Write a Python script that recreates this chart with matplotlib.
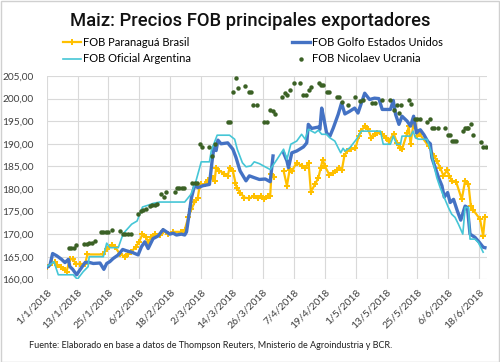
import numpy as np
import matplotlib
matplotlib.use('Agg')
import matplotlib.pyplot as plt
from matplotlib.patches import Rectangle

# ---- data (x = days since 1/1/2018) ----
brasil_day = [0, 1.9, 3.2, 4.1, 5.4, 7.1, 7.7, 9, 10.3, 11.4, 12.9, 14.9, 15.8, 22, 23.3, 25.2, 26.5,
              28.4, 30.4, 31.6, 32.9, 34.6, 35.9, 37.2, 38.5, 39.4, 40.7, 42, 43.9, 45.2, 47.1, 49.1,
              52.3, 53.6, 55, 56.2, 57.4, 58.7, 59.4, 60, 61.3, 62.6, 64.5, 65.2, 65.8, 67.1, 69, 70.3,
              71, 72.3, 73.3, 73.8, 75.1, 76.8, 78.7, 80.6, 81.9, 83.2, 84.5, 85.8, 86.8, 87.3, 88.1,
              90, 92, 93.3, 94.3, 95.2, 97.1, 99, 100.3, 101.7, 102.6, 104.2, 105.5, 106.4, 107.2, 108,
              109.8, 111.1, 112.8, 113.7, 114.6, 115.6, 116.6, 118, 119.9, 121.2, 122.2, 123.5, 124.8,
              126.1, 127.4, 128.4, 130.3, 131.6, 132.9, 134.8, 136.1, 137.1, 138, 140, 140.6, 141.3,
              142.3, 143.2, 143.8, 144.9, 148.3, 150.5, 151.5, 152.8, 154.1, 155.4, 156.4, 157.3, 159,
              161.2, 162.5, 163.8, 164.7, 165.7, 168.3, 169.5, 170.2]
brasil_val = [162.8, 163.5, 163.9, 163.2, 162.8, 162.0, 161.7, 164.4, 164.4, 163.4, 163.4, 163.4, 165.5,
              165.5, 166.8, 167.6, 167.2, 165.6, 165.0, 165.7, 166.1, 167.2, 168.3, 170.0, 169.4, 168.3,
              169.3, 170.0, 169.8, 170.7, 170.1, 170.5, 170.5, 170.9, 173.8, 175.5, 177.0, 178.1, 180.7,
              181.0, 181.0, 181.9, 182.5, 181.8, 184.7, 184.0, 183.4, 182.9, 184.6, 184.0, 181.4, 180.3,
              179.2, 178.1, 177.9, 178.5, 177.9, 178.5, 177.7, 178.5, 178.5, 183.4, 182.6, np.nan,
              184.0, 180.7, 184.1, 184.0, 185.8, 185.1, 184.6, 185.8, 179.4, 181.0, 182.5, 184.6, 186.5,
              185.1, 183.1, 183.6, 184.1, 184.7, 184.1, 187.3, 188.4, 188.8, 189.0, 191.7, 192.9, 193.9,
              193.2, 191.3, 192.1, 192.4, 192.2, 191.3, 190.7, 192.2, 190.2, 189.0, 188.8, 192.4, 193.9,
              190.0, 193.9, 195.0, 191.7, 192.1, 189.5, 187.3, 186.2, 184.7, 182.9, 184.1, 182.9, 181.8,
              181.6, 177.7, 181.8, 181.0, 176.3, 175.3, 173.3, 169.6, 173.8]

golfo_day = [0, 1.3, 2.3, 3.9, 5.8, 7.1, 8.4, 9.0, 10.1, 11.6, 14.9, 16.1, 18.1, 20.7, 22.2, 23.3, 24.5,
             25.8, 27.8, 29.5, 31, 33, 35.5, 36.8, 38.1, 39.4, 41.3, 43.3, 45.2, 46.5, 47.8, 49.1, 50.4,
             52.3, 53.6, 54.3, 55.2, 56.2, 57.4, 58.7, 60.6, 63.2, 64.2, 65, 65.8, 66.5, 67.7, 70.3, 72.3,
             73.5, 75.1, 77.4, 78.7, 80.6, 82.6, 84.9, 86.8, 87.9, 90, 92, 93.3, 93.9, 95.2, 97.1, 99.7,
             101, 101.6, 102.9, 105.5, 106.1, 106.8, 107.7, 108.7, 110, 111.3, 113.2, 114.5, 115.8, 117.7,
             119.6, 120.9, 122.2, 123.5, 125.4, 127.3, 129, 130.3, 133.5, 134.6, 135.5, 136.8, 138, 140,
             141.3, 142.5, 143.6, 144.5, 145.1, 146.5, 148, 149, 149.6, 150.9, 152.2, 153.5, 154.4, 155.7,
             156.7, 158, 159.5, 160.8, 162.5, 163.4, 164.4, 166.3, 168, 169.5, 170.2]
golfo_val = [162.6, 163.2, 165.7, 165.2, 164.4, 163.7, 164.4, 162.8, 162.2, 161.0, 163.7, 163.8, 163.5,
             163.6, 162.2, 163.5, 163.9, 164.6, 165.4, 166.6, 166.3, 166.0, 165.4, 167.2, 168.3, 166.8,
             169.0, 169.6, 171.0, 170.5, 170.0, 170.2, 169.8, 170.0, 169.8, 170.5, 174.0, 178.0, 180.7,
             180.3, 180.7, 181.0, 186.0, 189.5, 188.5, 190.8, 190.0, 190.2, 188.8, 187.0, 184.0, 181.8,
             182.9, 182.5, 182.1, 182.2, 181.6, 187.3, np.nan, 188.0, 186.2, 184.7, 188.0, 188.4, 189.3,
             190.2, 194.3, 193.4, 193.7, 193.2, 197.9, 195.4, 192.4, 191.7, 193.5, 196.5, 199.0, 196.6,
             197.2, 197.9, 196.8, 199.0, 201.2, 199.8, 200.1, 200.0, 197.6, 197.6, 199.6, 196.5, 194.3,
             196.1, 195.0, 193.9, 196.1, 192.4, 192.9, 193.1, 192.0, 190.5, 190.0, 186.9, 184.7, 182.5,
             180.7, 178.2, 179.2, 177.0, 177.7, 175.1, 173.1, 176.2, 175.9, 170.0, 169.3, 168.2, 167.1,
             167.0]

argentina_day = [0, 1.9, 2.8, 4.5, 10.3, 11.9, 14.2, 16.1, 16.5, 22, 23.3, 24.5, 27.8, 29.7, 33, 35.1,
                 37.2, 39.4, 41.3, 43.9, 53.6, 56, 57.8, 59.4, 60, 63.2, 63.9, 66.2, 71, 73, 74, 76, 77.4,
                 79.3, 80.6, 82.6, 84.5, 86.8, 89.4, 92, 93.3, 94.8, 97.1, 99, 100.4, 101.6, 104.2, 105.5,
                 106.8, 108.7, 110, 111.9, 113.2, 114.2, 115.1, 115.8, 117.7, 120.3, 122.2, 125.8, 129.6,
                 130.7, 133.5, 134.6, 135.9, 137.4, 138, 141.3, 142.3, 143.2, 144.5, 147.7, 149, 150.3,
                 151.5, 152.8, 154.1, 156, 157.3, 158.6, 159.9, 161.6, 162.5, 163.8, 164.4, 166.3, 167.6,
                 169.5]
argentina_val = [162.8, 163.5, 163.9, 161.0, 161.0, 160.0, 161.7, 162.8, 165.0, 165.0, 168.0, 167.0, 167.0,
                 170.1, 172.2, 172.9, 176.0, 176.4, 176.8, 177.1, 177.1, 178.8, 181.4, 184.7, 186.0, 186.0,
                 188.4, 191.9, 191.9, 191.0, 188.8, 185.8, 184.9, 185.1, 186.0, 185.6, 185.0, 184.3, 186.5,
                 188.8, 186.5, 189.9, 190.6, 192.1, 191.0, 193.2, 192.4, 193.0, 192.1, 192.1, 191.3, 190.6,
                 189.1, 188.0, 189.0, 188.4, 189.1, 191.0, 192.8, 192.8, 192.8, 189.9, 189.9, 191.7, 189.9,
                 189.9, 191.7, 191.7, 192.8, 191.3, 191.0, 191.0, 188.8, 185.4, 182.5, 180.3, 178.5, 175.9,
                 174.4, 173.7, 172.2, 170.0, 175.9, 175.9, 168.9, 168.9, 168.2, 166.0]

ucrania_day = [8.5, 9.5, 10.5, 11.5, 14.5, 15.5, 16.5, 17.5, 18.7, 21, 22, 23, 24, 25.5, 28.5, 29.5, 30.5,
               31.5, 32.7, 35.5, 36.5, 37.5, 38.5, 40, 41, 42, 43, 44.5, 45.4, 46.5, 49.7, 50.5, 51.5, 52.5,
               53.5, 56.5, 57.5, 58.5, 59.4, 60.4, 63.2, 64.3, 65.4, 70.3, 71.2, 72.3, 73.5, 74.2, 77.2,
               78.5, 79.4, 80.3, 81.5, 84.5, 85.5, 86.8, 87.9, 88.8, 91.4, 92.7, 93.3, 94.6, 95.9, 98.5,
               99.7, 100.7, 101.7, 102.6, 105.6, 106.5, 107.4, 108.8, 109.8, 112.6, 113.5, 114.7, 116.9,
               119.8, 121.8, 123, 126.5, 127.5, 130.3, 133.5, 134.8, 135.9, 136.8, 137.7, 140.6, 141.5,
               143.2, 144, 144.9, 147.7, 148.7, 149.6, 150.6, 151.8, 154.8, 155.7, 156.7, 157.3, 158.2,
               159, 161.6, 162.5, 163.2, 163.8, 164.7, 165.7, 168.6, 169.5, 170.5]
ucrania_val = [166.9, 166.9, 167.0, 167.5, 167.9, 167.9, 168.0, 168.0, 168.5, 170.4, 170.4, 170.5, 170.5,
               171.0, 170.6, 170.1, 170.0, 170.0, 170.0, 174.5, 175.2, 175.4, 175.5, 176.3, 176.4, 176.5,
               176.6, 178.8, 178.2, 179.4, 179.4, 180.3, 180.3, 180.3, 180.3, 181.3, 181.3, 181.3, 189.9,
               189.3, 189.3, 187.3, 189.9, 194.9, 194.9, 201.5, 204.6, 202.4, 202.9, 201.4, 201.4, 198.5,
               198.5, 194.9, 194.9, 197.4, 197.2, 196.6, 200.3, 201.3, 200.7, 202.0, 203.5, 203.5, 200.7,
               200.7, 202.0, 202.5, 203.5, 203.0, 203.0, 201.5, 201.5, 200.3, 200.3, 199.3, 198.5, 200.3,
               199.4, 199.7, 199.0, 199.0, 199.8, 199.8, 197.4, 198.5, 196.8, 198.5, 199.8, 198.8, 195.4,
               195.4, 195.4, 194.9, 195.4, 193.4, 193.4, 193.4, 193.4, 191.9, 191.9, 190.7, 190.7, 190.7,
               192.8, 193.4, 193.4, 193.4, 194.4, 191.9, 190.4, 189.3, 189.3]

tick_days = [0, 12, 24, 36, 48, 60, 72, 84, 96, 108, 120, 132, 144, 156, 168]
tick_labels = ['1/1/2018', '13/1/2018', '25/1/2018', '6/2/2018', '18/2/2018', '2/3/2018', '14/3/2018',
               '26/3/2018', '7/4/2018', '19/4/2018', '1/5/2018', '13/5/2018', '25/5/2018', '6/6/2018',
               '18/6/2018']
y_ticks = [160, 165, 170, 175, 180, 185, 190, 195, 200, 205]

names = ['FOB Paranaguá Brasil', 'FOB Golfo Estados Unidos', 'FOB Oficial Argentina', 'FOB Nicolaev Ucrania']

# ---- style ----
C_YEL = '#FFC000'
C_BLU = '#4472C4'
C_CYA = '#45C6D6'
C_GRN = '#3B6125'
FONT = ['Lato', 'DejaVu Sans']
plt.rcParams['font.family'] = FONT

fig = plt.figure(figsize=(5, 3.62), dpi=100)
fig.patches.append(Rectangle((0.001, 0.001), 0.997, 0.996, transform=fig.transFigure,
                             fill=False, edgecolor='#d0d0d0', lw=1.0))

ax = fig.add_axes([0.0934, 0.2285, 0.8806, 0.5615])
ax.set_xlim(0, 171)
ax.set_ylim(160, 205)

l1, = ax.plot(brasil_day, brasil_val, color=C_YEL, lw=1.6, marker='P', ms=4.8,
              markeredgewidth=0, zorder=3)
l2, = ax.plot(golfo_day, golfo_val, color=C_BLU, lw=2.4, zorder=4)
l3, = ax.plot(argentina_day, argentina_val, color=C_CYA, lw=1.2, zorder=5)
l4, = ax.plot(ucrania_day, ucrania_val, ls='none', marker='o', ms=3.2, color=C_GRN,
              markeredgewidth=0, zorder=6)

ax.set_xticks(tick_days)
ax.set_xticklabels(tick_labels, rotation=45, ha='right', rotation_mode='anchor', fontsize=7.5,
                   color='#404040')
ax.set_yticks(y_ticks)
ax.set_yticklabels([f'{v:.2f}'.replace('.', ',') for v in y_ticks], fontsize=7.3, color='#404040')
ax.tick_params(axis='both', length=0)
ax.tick_params(axis='y', pad=9.5)
ax.tick_params(axis='x', pad=6)
ax.grid(True, color='#d9d9d9', lw=0.8)
ax.set_axisbelow(True)
for s in ax.spines.values():
    s.set_visible(False)

fig.text(0.5, 0.942, 'Maiz: Precios FOB principales exportadores', ha='center', va='center',
         fontsize=13.2, fontweight='medium', family=['Roboto', 'DejaVu Sans'], color='#111111')

handles = [l1, l3, l2, l4]
labels = [names[0], names[2], names[1], names[3]]
fig.legend(handles, labels, loc='upper left', bbox_to_anchor=(0.126, 0.898), ncol=2, frameon=False,
           fontsize=8, handlelength=1.6, handletextpad=0.2, columnspacing=9.1, labelspacing=0.5,
           borderaxespad=0, borderpad=0)

fig.text(0.058, 0.045, 'Fuente: Elaborado en base a datos de Thompson Reuters, Mnisterio de Agroindustria y BCR.',
         ha='left', va='center', fontsize=6.5, color='#202020')

fig.savefig('out.png', dpi=100)
